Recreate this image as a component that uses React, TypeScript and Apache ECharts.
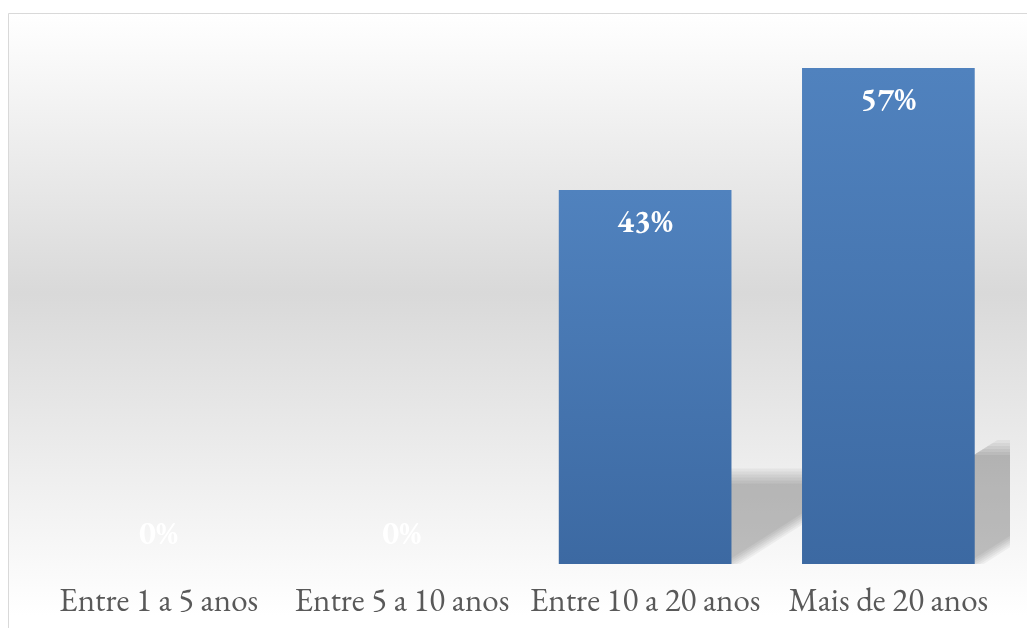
import React, { useEffect, useRef } from "react";
import * as echarts from "echarts";

const categories = ["Entre 1 a 5 anos", "Entre 5 a 10 anos", "Entre 10 a 20 anos", "Mais de 20 anos"];
const values = [0, 0, 43, 57];
const valueLabels = ["0%", "0%", "43%", "57%"];

const FONT = "Garamond, 'EB Garamond', 'Liberation Serif', 'DejaVu Serif', serif";

export default function App() {
  const ref = useRef<HTMLDivElement>(null);
  useEffect(() => {
    if (!ref.current) return;
    const chart = echarts.init(ref.current, undefined, { renderer: "svg" });
    const barRatio = 0.71;
    chart.setOption({
      animation: false,
      graphic: [
        {
          type: "rect",
          z: -10,
          shape: { x: 8.5, y: 13.5, width: 1100, height: 700 },
          style: {
            fill: new echarts.graphic.LinearGradient(0, 0, 0, 1, [
              { offset: 0, color: "#ffffff" },
              { offset: 0.4, color: "#d9d9d9" },
              { offset: 0.86, color: "#ffffff" },
              { offset: 1, color: "#ffffff" },
            ]),
            stroke: "#d9d9d9",
            lineWidth: 1,
          },
        },
      ],
      grid: { left: 37, right: 17, top: 42, bottom: 64 },
      xAxis: {
        type: "category",
        data: categories,
        axisLine: { show: false },
        axisTick: { show: false },
        axisLabel: { color: "#595959", fontSize: 33, fontFamily: FONT, margin: 19, interval: 0 },
      },
      yAxis: {
        type: "value",
        min: 0,
        max: 60,
        show: false,
        splitLine: { show: false },
      },
      series: [
        {
          type: "custom",
          z: 1,
          clip: true,
          data: values.map((v, i) => [i, v]),
          renderItem: (params: any, api: any) => {
            const i = api.value(0);
            const v = api.value(1);
            if (!v) return null;
            const base = api.coord([i, 0]);
            const top = api.coord([i, v]);
            const w = api.size([1, 0])[0] * barRatio;
            const h = base[1] - top[1];
            const left = base[0] - w / 2;
            const right = base[0] + w / 2;
            const a = 0.37 * h;
            const b = 0.235 * h;
            const layers = [];
            for (let k = 0; k < 6; k++) {
              const off = (k - 2.5) * 3;
              const bk = b - off;
              const ak = (a * bk) / b;
              const dx = -off * 1.2;
              layers.push({
                type: "polygon",
                shape: {
                  points: [
                    [left, base[1]],
                    [right + dx, base[1]],
                    [right + dx + ak, base[1] - bk],
                    [left + ak, base[1] - bk],
                  ],
                },
                style: { fill: "rgba(0,0,0,0.045)" },
              });
            }
            return { type: "group", children: layers };
          },
        },
        {
          type: "bar",
          z: 3,
          barWidth: (barRatio * 100).toFixed(0) + "%",
          data: values.map((v, i) => ({
            value: v,
            label: {
              position: v === 0 ? "top" : "insideTop",
              formatter: valueLabels[i],
            },
          })),
          itemStyle: {
            color: new echarts.graphic.LinearGradient(0, 0, 0, 1, [
              { offset: 0, color: "#5082be" },
              { offset: 1, color: "#3c69a2" },
            ]),
          },
          label: {
            show: true,
            color: "#ffffff",
            fontSize: 32,
            fontWeight: "bold",
            fontFamily: FONT,
            distance: 15,
          },
        },
      ],
    });
    return () => chart.dispose();
  }, []);
  return (
    <div
      ref={ref}
      style={{ position: "fixed", left: 0, top: 0, width: 1027, height: 628 }}
    />
  );
}
